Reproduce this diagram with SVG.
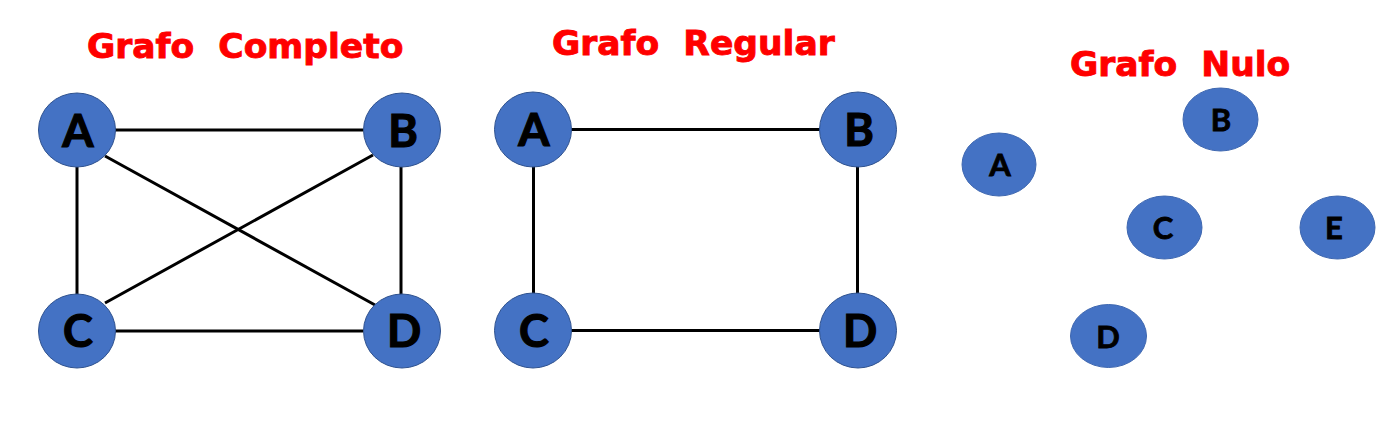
<svg xmlns="http://www.w3.org/2000/svg" width="1399" height="427" viewBox="0 0 1399 427">
<style>
.title{font-family:"DejaVu Sans",sans-serif;font-weight:bold;font-size:34.5px;fill:#FF0000;stroke:#FF0000;stroke-width:0.9;white-space:pre}
.node{fill:#4472C4;stroke:#2F528F;stroke-width:1}
.node2{fill:#4472C4;stroke:#3E67B0;stroke-width:1}
.lbl{font-family:Lato,"Liberation Sans",sans-serif;font-weight:bold;font-size:45px;fill:#000;stroke:#000;stroke-width:1.2;text-anchor:middle}
.lbl2{font-family:Lato,"Liberation Sans",sans-serif;font-weight:bold;font-size:31px;fill:#000;stroke:#000;stroke-width:0.8;text-anchor:middle}
.edge{stroke:#000;stroke-width:3;fill:none}
</style>
<rect width="1399" height="427" fill="#fff"/>
<text class="title" x="87" y="58" xml:space="preserve">Grafo  Completo</text>
<text class="title" x="552" y="55" xml:space="preserve">Grafo  Regular</text>
<text class="title" x="1070" y="76" xml:space="preserve">Grafo  Nulo</text>
<g id="connectors">
<line class="edge" x1="115" y1="130" x2="363" y2="130"/>
<line class="edge" x1="77" y1="167" x2="77" y2="295"/>
<line class="edge" x1="401" y1="167" x2="401" y2="295"/>
<line class="edge" x1="115" y1="331" x2="363" y2="331"/>
<line class="edge" x1="105" y1="156" x2="375" y2="305"/>
<line class="edge" x1="373" y1="155" x2="105" y2="303"/>
<line class="edge" x1="571" y1="129.5" x2="820" y2="129.5"/>
<line class="edge" x1="533.5" y1="166" x2="533.5" y2="294"/>
<line class="edge" x1="857.5" y1="166" x2="857.5" y2="294"/>
<line class="edge" x1="571" y1="330.5" x2="820" y2="330.5"/>
</g>
<g id="c-A"><ellipse class="node" cx="77" cy="130" rx="38.5" ry="37"/><text class="lbl" x="78" y="147">A</text></g>
<g id="c-B"><ellipse class="node" cx="402" cy="130" rx="38.5" ry="37"/><text class="lbl" x="403" y="147">B</text></g>
<g id="c-C"><ellipse class="node" cx="77" cy="331" rx="38.5" ry="37"/><text class="lbl" x="78" y="347">C</text></g>
<g id="c-D"><ellipse class="node" cx="402" cy="331" rx="38.5" ry="37"/><text class="lbl" x="404" y="347">D</text></g>
<g id="r-A"><ellipse class="node" cx="533" cy="129.5" rx="38.5" ry="37.5"/><text class="lbl" x="534" y="146">A</text></g>
<g id="r-B"><ellipse class="node" cx="858" cy="129.5" rx="38.5" ry="37.5"/><text class="lbl" x="859" y="146">B</text></g>
<g id="r-C"><ellipse class="node" cx="533" cy="330.5" rx="38.5" ry="37.5"/><text class="lbl" x="534" y="347">C</text></g>
<g id="r-D"><ellipse class="node" cx="858" cy="330.5" rx="38.5" ry="37.5"/><text class="lbl" x="860" y="347">D</text></g>
<g id="n-A"><ellipse class="node2" cx="999" cy="164.5" rx="37" ry="31.5"/><text class="lbl2" x="1000" y="176">A</text></g>
<g id="n-B"><ellipse class="node2" cx="1220.5" cy="119.5" rx="37.5" ry="31.5"/><text class="lbl2" x="1221" y="131">B</text></g>
<g id="n-C"><ellipse class="node2" cx="1164.5" cy="227.5" rx="37.5" ry="31.5"/><text class="lbl2" x="1163" y="239">C</text></g>
<g id="n-E"><ellipse class="node2" cx="1337.5" cy="227.5" rx="37.5" ry="31.5"/><text class="lbl2" x="1334" y="239">E</text></g>
<g id="n-D"><ellipse class="node2" cx="1108.5" cy="336" rx="38" ry="31.5"/><text class="lbl2" x="1108" y="348">D</text></g>
</svg>
